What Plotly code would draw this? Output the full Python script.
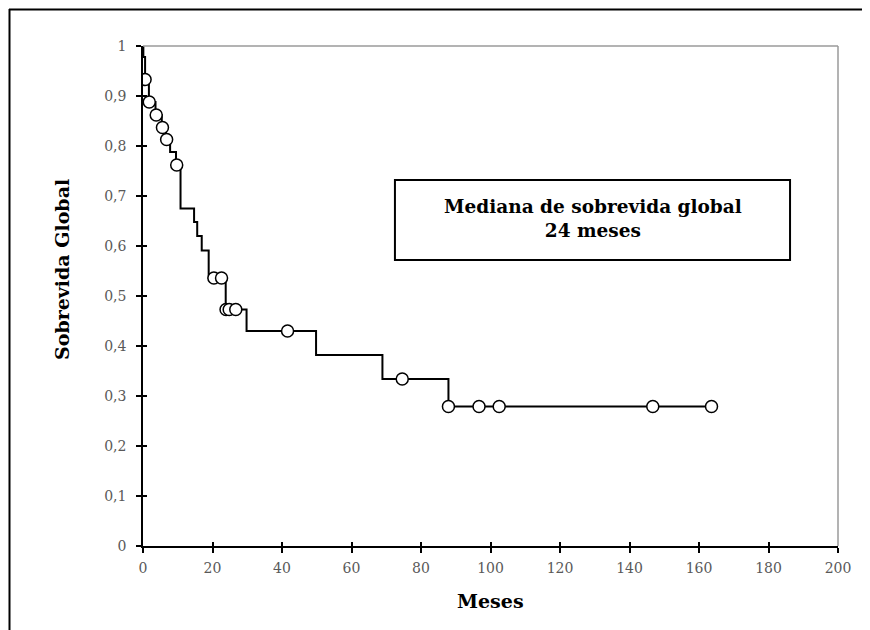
import numpy as np
import plotly.graph_objects as go

# Kaplan-Meier step function (months, survival)
step_times = [0, 0.1, 0.6, 1.7, 3.6, 5.4, 6.6, 7.8, 9.5, 10.8, 14.7, 15.6, 16.9,
              18.9, 23.8, 29.8, 49.8, 68.9, 87.9, 163.6]
step_surv = [1.0, 0.978, 0.933, 0.888, 0.862, 0.837, 0.813, 0.788, 0.762, 0.675,
             0.648, 0.620, 0.591, 0.536, 0.473, 0.430, 0.382, 0.334, 0.279, 0.279]

# censored observations (months)
censor_times = [0.6, 1.8, 3.8, 5.6, 6.8, 9.7, 20.4, 22.6, 23.9, 24.8, 26.7,
                41.6, 74.6, 87.9, 96.7, 102.5, 146.7, 163.6]

x_ticks = list(range(0, 201, 20))
y_ticks = [round(v * 0.1, 1) for v in range(0, 11)]

box_text = "<b>Mediana de sobrevida global<br>24 meses</b>"
x_title = "<b>Meses</b>"
y_title = "<b>Sobrevida Global</b>"

idx = np.searchsorted(np.array(step_times), np.array(censor_times), side="right") - 1
censor_surv = [step_surv[i] for i in idx]

FONT = "DejaVu Serif"
OFF = 8  # page body margin
W, H = 870 - OFF, 630 - OFF
L, R, T, B = 143 - OFF, 32, 46 - OFF, 84
pw, ph = W - L - R, H - T - B

def px_x(p):  # screen pixel -> paper
    return (p - OFF - L) / pw

def px_y(p):
    return (H - B - (p - OFF)) / ph

fig = go.Figure()
fig.add_trace(go.Scatter(x=step_times, y=step_surv, mode="lines",
                         line=dict(color="black", width=2, shape="hv"),
                         hoverinfo="skip", showlegend=False))
fig.add_trace(go.Scatter(x=censor_times, y=censor_surv, mode="markers",
                         marker=dict(symbol="circle", size=12, color="white",
                                     line=dict(color="black", width=1.5)),
                         showlegend=False))
# helper invisible trace for the inner-tick overlay axes
fig.add_trace(go.Scatter(x=[0], y=[0], xaxis="x2", yaxis="y2", mode="markers",
                         marker=dict(opacity=0), hoverinfo="skip", showlegend=False))

tickfont = dict(family=FONT, size=14, color="#595959")
fig.update_layout(
    width=W, height=H,
    margin=dict(l=L, r=R, t=T, b=B),
    paper_bgcolor="white", plot_bgcolor="white",
    separators=", ",
    xaxis=dict(range=[0, 200], tickvals=x_ticks, showgrid=False, zeroline=False,
               showline=True, linecolor="black", linewidth=1.5,
               ticks="outside", ticklen=5, tickwidth=1.5, tickcolor="black",
               tickfont=tickfont, ticklabelstandoff=3),
    yaxis=dict(range=[0, 1], tickvals=y_ticks, showgrid=False, zeroline=False,
               showline=True, linecolor="black", linewidth=1.5,
               ticks="outside", ticklen=5, tickwidth=1.5, tickcolor="black",
               tickfont=tickfont, ticklabelstandoff=7),
    xaxis2=dict(range=[0, 200], tickvals=x_ticks, overlaying="x", anchor="y2",
                side="bottom", showgrid=False, zeroline=False, showline=False,
                ticks="inside", ticklen=4, tickwidth=1.5, tickcolor="black",
                showticklabels=False),
    yaxis2=dict(range=[0, 1], tickvals=y_ticks, overlaying="y", anchor="x2",
                side="left", showgrid=False, zeroline=False, showline=False,
                ticks="inside", ticklen=4, tickwidth=1.5, tickcolor="black",
                showticklabels=False),
    shapes=[
        # plot area top and right border (gray)
        dict(type="line", xref="paper", yref="paper", x0=0, x1=1, y0=1, y1=1,
             line=dict(color="#9a9a9a", width=1.5)),
        dict(type="line", xref="paper", yref="paper", x0=1, x1=1, y0=0, y1=1,
             line=dict(color="#9a9a9a", width=1.5)),
        # outer chart frame (cropped)
        dict(type="line", xref="paper", yref="paper", x0=px_x(9), x1=px_x(880),
             y0=px_y(9.5), y1=px_y(9.5), line=dict(color="black", width=2)),
        dict(type="line", xref="paper", yref="paper", x0=px_x(9.5), x1=px_x(9.5),
             y0=px_y(9), y1=px_y(640), line=dict(color="black", width=2)),
        # text box
        dict(type="rect", xref="x", yref="y", x0=72.5, x1=186.2, y0=0.572, y1=0.732,
             line=dict(color="black", width=2), fillcolor="white", layer="above"),
    ],
    annotations=[
        dict(text=box_text, x=129.4, y=0.656, xref="x", yref="y", showarrow=False,
             xanchor="center", yanchor="middle",
             font=dict(family=FONT, size=18.5, color="black"), align="center"),
        dict(text=x_title, x=px_x(491), y=px_y(601), xref="paper", yref="paper",
             xanchor="center", yanchor="middle",
             showarrow=False, font=dict(family=FONT, size=19, color="black")),
        dict(text=y_title, x=px_x(62), y=px_y(270), xref="paper", yref="paper",
             xanchor="center", yanchor="middle",
             showarrow=False, textangle=-90, font=dict(family=FONT, size=19, color="black")),
    ],
)

fig.write_html("out.html")
